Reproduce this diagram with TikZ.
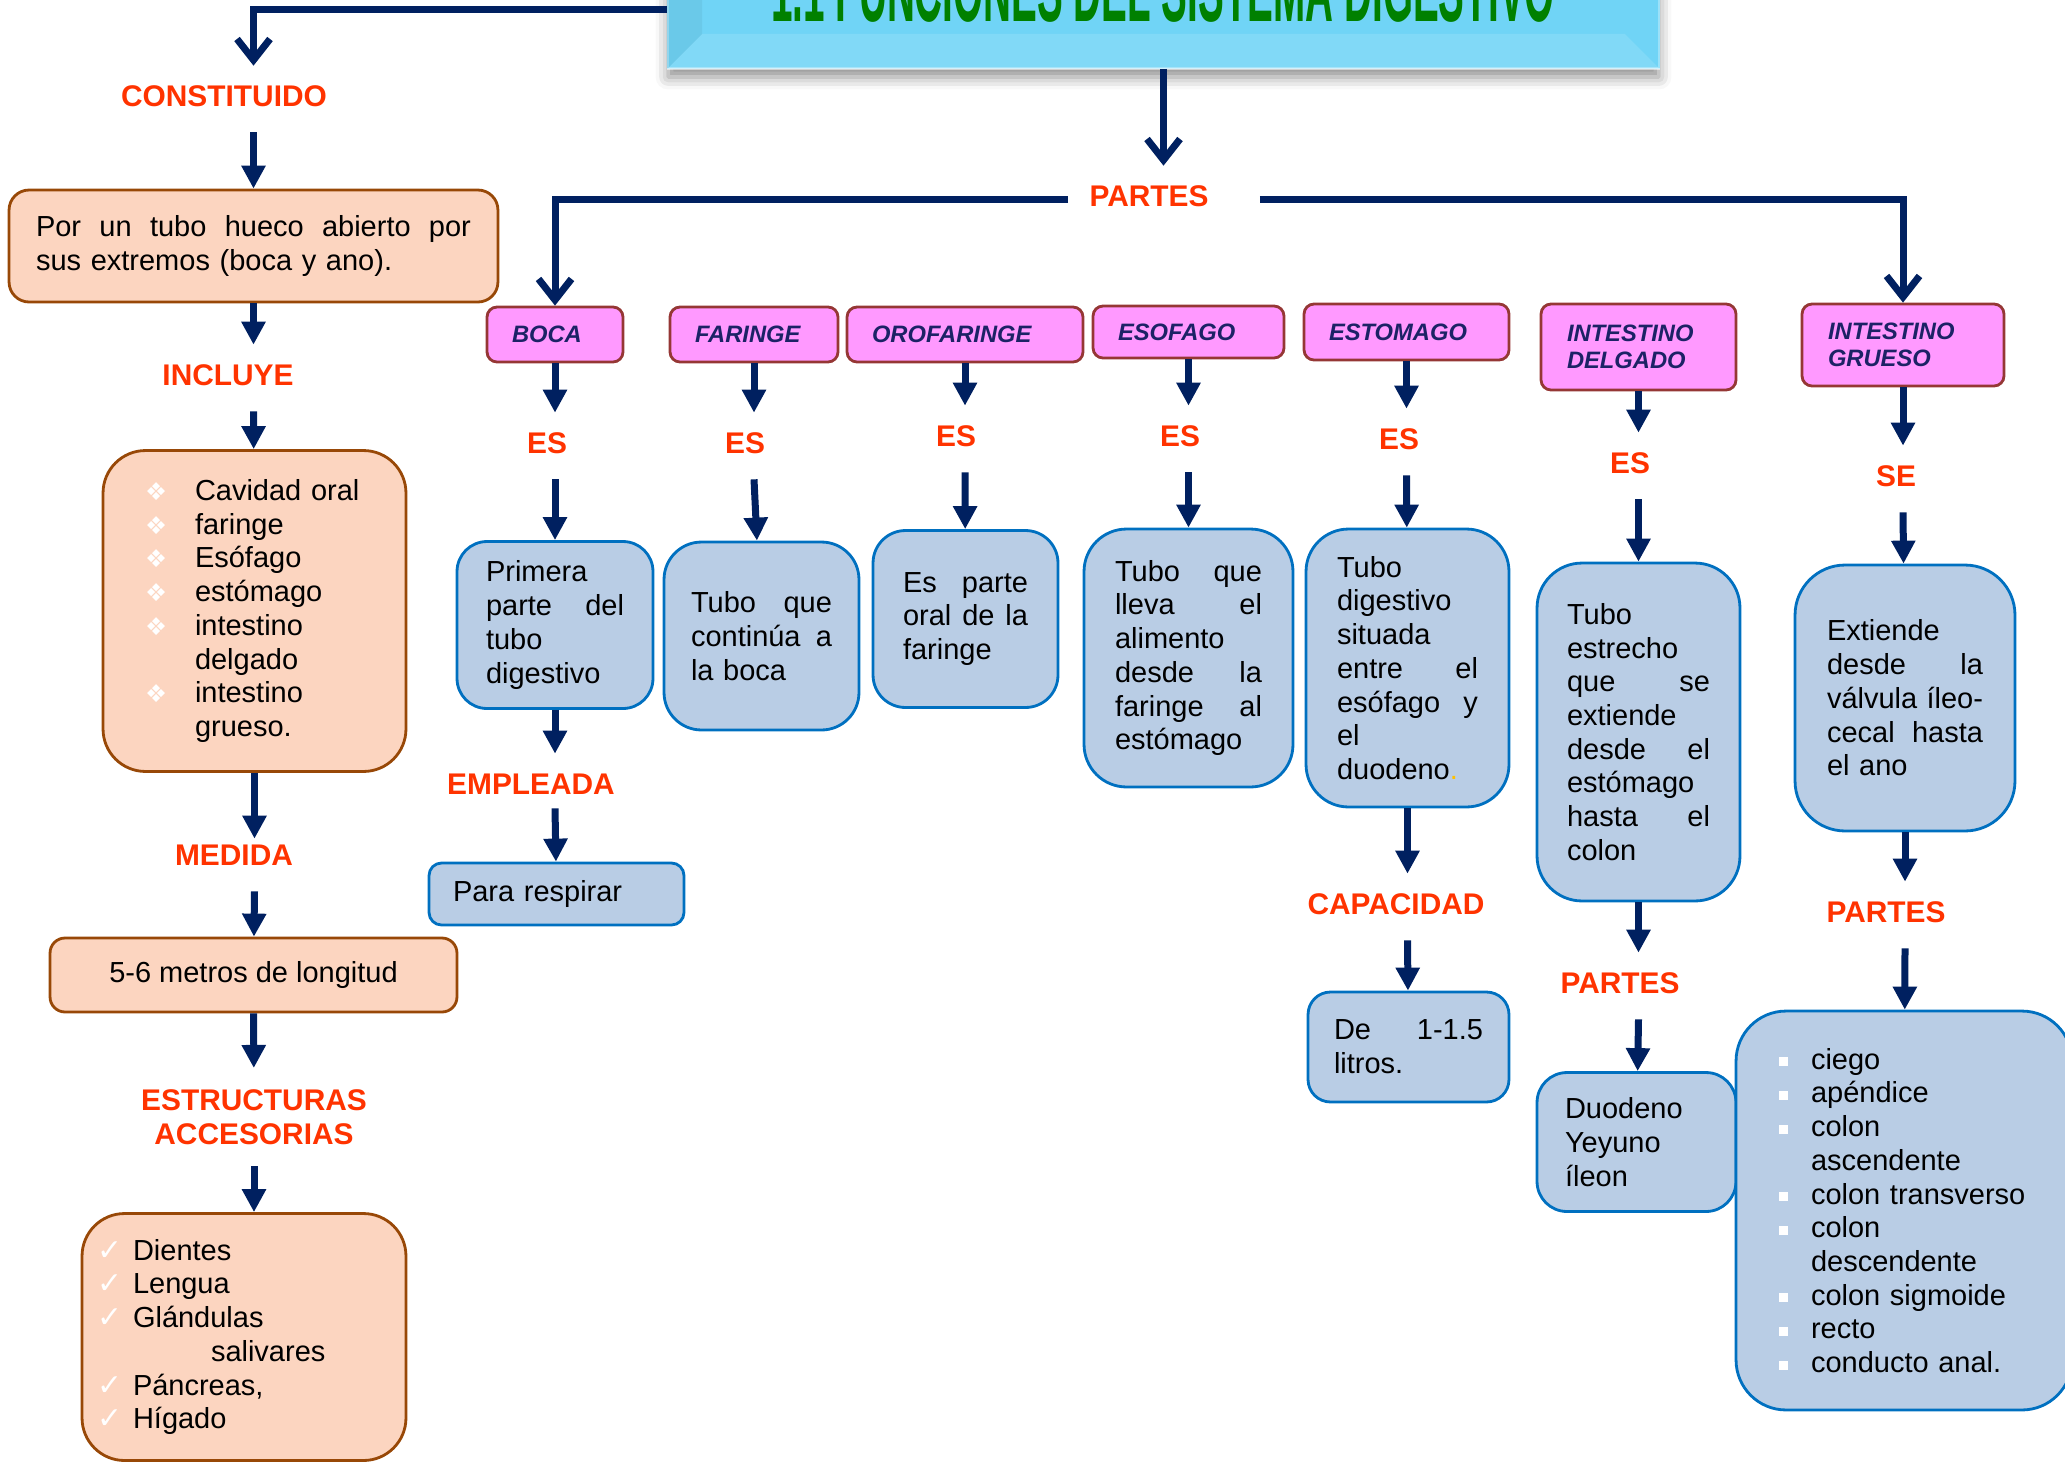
\documentclass[tikz,border=0pt]{standalone}
\usepackage{fontspec}
\setmainfont{Liberation Sans}
\newfontfamily\symfont{DejaVu Sans}
\usepackage{graphicx}
\usepackage{xcolor}
\usetikzlibrary{arrows.meta, positioning, calc, shadows.blur}

\definecolor{navy}{RGB}{0,32,96}
\definecolor{lblred}{RGB}{255,51,0}
\definecolor{peachfill}{RGB}{252,213,192}
\definecolor{peachline}{RGB}{152,72,7}
\definecolor{pinkfill}{RGB}{255,153,255}
\definecolor{pinkline}{RGB}{149,55,53}
\definecolor{hdrnavy}{RGB}{28,34,102}
\definecolor{bluefill}{RGB}{185,205,229}
\definecolor{blueline}{RGB}{0,112,192}
\definecolor{titlefill}{RGB}{112,212,246}
\definecolor{titlegreen}{RGB}{0,128,0}
\definecolor{dotgold}{RGB}{255,192,0}

\newcommand{\bodyfont}{\fontsize{16.5}{19.2}\selectfont}
\newcommand{\lblfont}{\fontsize{17}{19.5}\selectfont\bfseries}
\newcommand{\hdrfont}{\fontsize{13.5}{15.7}\selectfont\bfseries\itshape}
\newcommand{\diam}{\makebox[1cm][l]{\symfont\fontsize{14}{14}\selectfont\textcolor{white}{❖}}}
\newcommand{\chk}{\makebox[0.72cm][l]{\symfont\fontsize{17}{17}\selectfont\textcolor{white}{✓}}}
\newcommand{\sqb}{\makebox[0.72cm][l]{\hspace{0.08cm}\textcolor{white}{\rule[0.06cm]{0.18cm}{0.18cm}}}}

\tikzstyle{peach} = [rectangle, draw=peachline, fill=peachfill, line width=1.6pt, font=\bodyfont, align=left, inner sep=0pt]
\tikzstyle{bluebox} = [rectangle, draw=blueline, fill=bluefill, line width=1.6pt, font=\bodyfont, align=left, inner sep=0pt]
\tikzstyle{part} = [rectangle, draw=pinkline, fill=pinkfill, line width=1.6pt, rounded corners=0.2cm, font=\hdrfont, text=hdrnavy, align=left, inner sep=0pt]
\tikzstyle{lbl} = [font=\lblfont, text=lblred, inner xsep=0pt, inner ysep=0pt, text height=0.8cm, text depth=0.52cm, anchor=base]
\tikzstyle{lbltwo} = [font=\lblfont, text=lblred, align=center, inner xsep=0pt, inner ysep=0.42cm]
\tikzstyle{titlebox} = [rectangle, fill=titlefill, draw=titlefill!70!white, line width=1pt, minimum width=19.82cm, minimum height=2.36cm, blur shadow={shadow xshift=0pt, shadow yshift=-0.18cm, shadow blur radius=0.25cm, shadow opacity=45}]
\tikzstyle{arrow} = [line width=0.14cm, draw=navy, -{Triangle[length=0.46cm, width=0.46cm]}]
\tikzstyle{barb} = [line width=0.14cm, draw=navy, -{Straight Barb[length=0.42cm, width=0.66cm]}]

\begin{document}
\begin{tikzpicture}[x=0.02cm, y=-0.02cm]
    \useasboundingbox (0,0) rectangle (2065,1461);
    \clip (0,0) rectangle (2065,1461);

    % Title (cut at the top of the page)
    \node (title) [titlebox] at (1163.5,9) {};
    \fill[white, opacity=0.12] (title.south west) -- (title.south east) -- ($(title.south east)+(-35,-35)$) -- ($(title.south west)+(35,-35)$) -- cycle;
    \fill[black, opacity=0.05] (title.south west) -- ($(title.south west)+(35,-35)$) -- ($(title.north west)+(35,35)$) -- (title.north west) -- cycle;
    \draw[white, opacity=0.5, line width=1.5pt] (title.south west) -- (title.south east);
    \node (titletext) [anchor=base, text=titlegreen, font=\fontsize{22}{22}\selectfont\bfseries, inner sep=0pt] at (1163,21) {\scalebox{1}[2.4]{1.1 FUNCIONES DEL SISTEMA DIGESTIVO}};

    % Left column
    \node (constituido) [lbl] at (224,106) {CONSTITUIDO};
    \node (tubo) [peach, rounded corners=0.4cm, minimum width=9.78cm, minimum height=2.24cm, text width=8.7cm] at (253.5,246) {Por\hfill un\hfill tubo\hfill hueco\hfill abierto\hfill por\\ sus extremos (boca y ano).};
    \node (incluye) [lbl] at (228,385) {INCLUYE};
    \node (cavidad) [peach, rounded corners=0.85cm, minimum width=6.06cm, minimum height=6.42cm, text width=4.38cm] at (254.5,611) {\diam Cavidad oral\\ \diam faringe\\ \diam Esófago\\ \diam estómago\\ \diam intestino\\ \hspace*{1cm}delgado\\ \diam intestino\\ \hspace*{1cm}grueso.};
    \node (medida) [lbl, text height=0.52cm] at (234,865) {MEDIDA};
    \node (metros) [peach, rounded corners=0.3cm, minimum width=8.14cm, minimum height=1.48cm, align=center] at (253.5,975) {5-6 metros de longitud};
    \node (estructuras) [lbltwo] at (254,1117) {ESTRUCTURAS\\ACCESORIAS};
    \node (dientes) [peach, rounded corners=0.85cm, minimum width=6.48cm, minimum height=4.94cm, text width=5.88cm] at (244,1337) {\chk Dientes\\ \chk Lengua\\ \chk Glándulas\\ \hspace*{2.28cm}salivares\\ \chk Páncreas,\\ \chk Hígado};

    % Parts of the tube
    \node (partes) [lbl, inner xsep=0.42cm] at (1149,206) {PARTES};
    \node (boca) [part, minimum width=2.72cm, minimum height=1.1cm, text width=1.72cm] at (555,334.5) {BOCA};
    \node (faringe) [part, minimum width=3.36cm, minimum height=1.1cm, text width=2.36cm] at (754,334.5) {FARINGE};
    \node (orofaringe) [part, minimum width=4.72cm, minimum height=1.1cm, text width=3.72cm] at (965,334.5) {OROFARINGE};
    \node (esofago) [part, minimum width=3.82cm, minimum height=1.04cm, text width=2.82cm] at (1188.5,332) {ESOFAGO};
    \node (estomago) [part, minimum width=4.1cm, minimum height=1.12cm, text width=3.1cm] at (1406.5,332) {ESTOMAGO};
    \node (idelgado) [part, minimum width=3.9cm, minimum height=1.72cm, text width=2.86cm] at (1638.5,347) {INTESTINO\\DELGADO};
    \node (igrueso) [part, minimum width=4.04cm, minimum height=1.64cm, text width=3.0cm] at (1903,345) {INTESTINO\\GRUESO};

    % Boca
    \node (esboca) [lbl] at (547,453) {ES};
    \node (bocatxt) [bluebox, rounded corners=0.6cm, minimum width=3.92cm, minimum height=3.34cm, text width=2.76cm] at (555,625) {Primera\\ parte\hfill del\\ tubo\\ digestivo};
    \node (empleada) [lbl, text depth=0.28cm] at (531,794) {EMPLEADA};
    \node (respirar) [bluebox, rounded corners=0.25cm, minimum width=5.1cm, minimum height=1.24cm, text width=4.14cm] at (556.5,894) {Para respirar};

    % Faringe
    \node (esfaringe) [lbl] at (745,453) {ES};
    \node (faringetxt) [bluebox, rounded corners=0.75cm, minimum width=3.9cm, minimum height=3.76cm, text width=2.82cm] at (761.5,636) {Tubo\hfill que\\ continúa\hfill a\\ la boca};

    % Orofaringe
    \node (esoro) [lbl] at (956,446) {ES};
    \node (orotxt) [bluebox, rounded corners=0.65cm, minimum width=3.7cm, minimum height=3.54cm, text width=2.5cm] at (965.5,619) {Es\hfill parte\\ oral\hfill de\hfill la\\ faringe};

    % Esofago
    \node (esesofago) [lbl] at (1180,446) {ES};
    \node (esofagotxt) [bluebox, rounded corners=0.85cm, minimum width=4.18cm, minimum height=5.16cm, text width=2.94cm] at (1188.5,658) {Tubo\hfill que\\ lleva\hfill el\\ alimento\\ desde\hfill la\\ faringe\hfill al\\ estómago};

    % Estomago
    \node (esestomago) [lbl] at (1399,449) {ES};
    \node (estomagotxt) [bluebox, rounded corners=0.85cm, minimum width=4.06cm, minimum height=5.56cm, text width=2.82cm] at (1407.5,668) {Tubo\\ digestivo\\ situada\\ entre\hfill el\\ esófago\hfill y\\ el\\ duodeno\textcolor{dotgold}{.}};
    \node (capacidad) [lbl] at (1396,914) {CAPACIDAD};
    \node (litros) [bluebox, rounded corners=0.45cm, minimum width=4.02cm, minimum height=2.2cm, text width=2.98cm] at (1408.5,1047) {De\hfill 1-1.5\\ litros.};

    % Intestino delgado
    \node (esdelgado) [lbl] at (1630,473) {ES};
    \node (delgadotxt) [bluebox, rounded corners=0.9cm, minimum width=4.06cm, minimum height=6.76cm, text width=2.86cm] at (1638.5,732) {Tubo\\ estrecho\\ que\hfill se\\ extiende\\ desde\hfill el\\ estómago\\ hasta\hfill el\\ colon};
    \node (partesdelgado) [lbl] at (1620,993) {PARTES};
    \node (duodeno) [bluebox, rounded corners=0.6cm, minimum width=3.98cm, minimum height=2.78cm, text width=2.86cm] at (1636.5,1142) {Duodeno\\ Yeyuno\\ íleon};

    % Intestino grueso
    \node (segrueso) [lbl] at (1896,486) {SE};
    \node (gruesotxt) [bluebox, rounded corners=1cm, minimum width=4.4cm, minimum height=5.32cm, text width=3.12cm] at (1905,698) {Extiende\\ desde\hfill la\\ válvula\hfill íleo-\\ cecal\hfill hasta\\ el ano};
    \node (partesgrueso) [lbl] at (1886,922) {PARTES};
    \node (colon) [bluebox, rounded corners=1cm, minimum width=6.72cm, minimum height=7.98cm, text width=5.16cm] at (1904,1210.5) {\sqb ciego\\ \sqb apéndice\\ \sqb colon\\ \hspace*{0.72cm}ascendente\\ \sqb colon transverso\\ \sqb colon\\ \hspace*{0.72cm}descendente\\ \sqb colon sigmoide\\ \sqb recto\\ \sqb conducto anal.};

    % Arrows - left column
    \draw [barb] (title.west) -| (tubo.north |- constituido.north);
    \draw [arrow] (constituido.south -| tubo) -- (tubo);
    \draw [arrow] (tubo) -- (tubo |- incluye.north);
    \draw [arrow] (incluye.south -| tubo) -- (cavidad);
    \draw [arrow] (cavidad) -- (cavidad |- medida.north);
    \draw [arrow] (medida.south -| cavidad) -- (metros);
    \draw [arrow] (metros) -- (estructuras);
    \draw [arrow] (estructuras) -- (estructuras |- dientes.north);

    % Arrows - parts
    \draw [barb] (title.south) -- (title.south |- partes.north);
    \draw [barb] (partes.west) -| (boca);
    \draw [barb] ([xshift=0.6cm]partes.east) -| (igrueso);

    \draw [arrow] (boca) -- (boca |- esboca.north);
    \draw [arrow] (esboca.south -| boca) -- (bocatxt);
    \draw [arrow] (bocatxt) -- (bocatxt |- empleada.north);
    \draw [arrow] (empleada.south -| bocatxt) -- (respirar);

    \draw [arrow] (faringe) -- (faringe |- esfaringe.north);
    \draw [arrow] (esfaringe.south -| faringe) -- (faringetxt);

    \draw [arrow] (orofaringe) -- (orofaringe |- esoro.north);
    \draw [arrow] (esoro.south -| orofaringe) -- (orotxt);

    \draw [arrow] (esofago) -- (esofago |- esesofago.north);
    \draw [arrow] (esesofago.south -| esofago) -- (esofagotxt);

    \draw [arrow] (estomago) -- (estomago |- esestomago.north);
    \draw [arrow] (esestomago.south -| estomago) -- (estomagotxt);
    \draw [arrow] (estomagotxt) -- (estomagotxt |- capacidad.north);
    \draw [arrow] (capacidad.south -| estomagotxt) -- (litros);

    \draw [arrow] (idelgado) -- (idelgado |- esdelgado.north);
    \draw [arrow] (esdelgado.south -| idelgado) -- (delgadotxt);
    \draw [arrow] (delgadotxt) -- (delgadotxt |- partesdelgado.north);
    \draw [arrow] (partesdelgado.south -| delgadotxt) -- (duodeno);

    \draw [arrow] (igrueso) -- (igrueso |- segrueso.north);
    \draw [arrow] (segrueso.south -| igrueso) -- (gruesotxt);
    \draw [arrow] (gruesotxt) -- (gruesotxt |- partesgrueso.north);
    \draw [arrow] (partesgrueso.south -| gruesotxt) -- (colon);

\end{tikzpicture}
\end{document}
